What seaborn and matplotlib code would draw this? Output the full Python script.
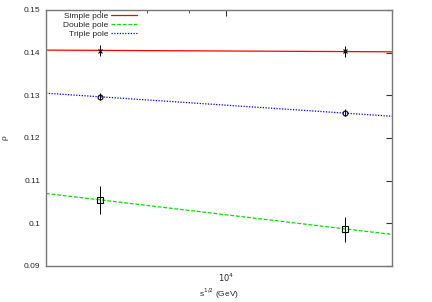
import numpy as np
import matplotlib
matplotlib.use("Agg")
import matplotlib.pyplot as plt
import seaborn as sns
from matplotlib.ticker import LogLocator, NullFormatter, FixedLocator

# Data
energies = [7000, 14000]            # sqrt(s) in GeV
simple_rho = [0.1405, 0.1403]
simple_err = [0.0013, 0.0012]
double_rho = [0.1054, 0.0986]
double_err = [0.0033, 0.0030]
triple_rho = [0.1297, 0.1259]
triple_err = [0.0009, 0.0008]

# fit curves (straight in log s)
curve_energy = [6000, 16000]
simple_curve = [0.1406, 0.1402]
double_curve = [0.1070, 0.0974]
triple_curve = [0.1305, 0.1251]

sns.set_style("white")
plt.rcParams['font.family'] = ['Liberation Sans', 'DejaVu Sans']

fig = plt.figure(figsize=(4.32, 3.02), dpi=100)
ax = fig.add_axes([46 / 432, 1 - 266 / 302, 346 / 432, 256 / 302])

sns.lineplot(x=curve_energy, y=simple_curve, ax=ax, color="red", lw=0.9,
             label="Simple pole")
sns.lineplot(x=curve_energy, y=double_curve, ax=ax, color="#00e000", lw=0.9,
             label="Double pole")
sns.lineplot(x=curve_energy, y=triple_curve, ax=ax, color="blue", lw=0.9,
             label="Triple pole")
ax.lines[1].set_linestyle((0, (3, 1.5)))
ax.lines[2].set_linestyle((0, (1, 1.2)))

ax.errorbar(energies, simple_rho, yerr=simple_err, fmt="x", color="black",
            ms=3.5, mew=0.8, elinewidth=0.7, capsize=0)
ax.errorbar(energies, double_rho, yerr=double_err, fmt="s", color="black",
            mfc="none", ms=4, mew=0.8, elinewidth=0.7, capsize=0)
ax.errorbar(energies, triple_rho, yerr=triple_err, fmt="o", color="black",
            mfc="none", ms=3.5, mew=0.8, elinewidth=0.7, capsize=0)

ax.set_xscale("log")
ax.set_xlim(6000, 16000)
ax.set_ylim(0.09, 0.15)
ax.xaxis.set_major_locator(FixedLocator([10000]))
ax.set_xticklabels(["$10^4$"])
ax.xaxis.set_minor_locator(LogLocator(base=10, subs=np.arange(2, 10)))
ax.xaxis.set_minor_formatter(NullFormatter())
ax.set_yticks([0.09, 0.1, 0.11, 0.12, 0.13, 0.14, 0.15])
ax.set_yticklabels(["0.09", "0.1", "0.11", "0.12", "0.13", "0.14", "0.15"])

ax.tick_params(which="both", direction="in", top=True, right=True,
               labelsize=6, color="#333333", pad=4)
ax.tick_params(which="major", length=4, width=0.8)
ax.tick_params(which="minor", length=2, width=0.6)
for s in ax.spines.values():
    s.set_color("#777777")
    s.set_linewidth(1.0)

ax.set_xlabel("s$^{1/2}$ (GeV)", fontsize=6, labelpad=2)
ax.set_ylabel("ρ", fontsize=6, labelpad=11)

ax.legend(loc="upper right", bbox_to_anchor=(0.262, 0.99), frameon=False,
          fontsize=6, markerfirst=False, handlelength=3.1,
          labelspacing=0.1, handletextpad=0.3, borderaxespad=0,
          borderpad=0)

fig.savefig("out.png", dpi=100)
